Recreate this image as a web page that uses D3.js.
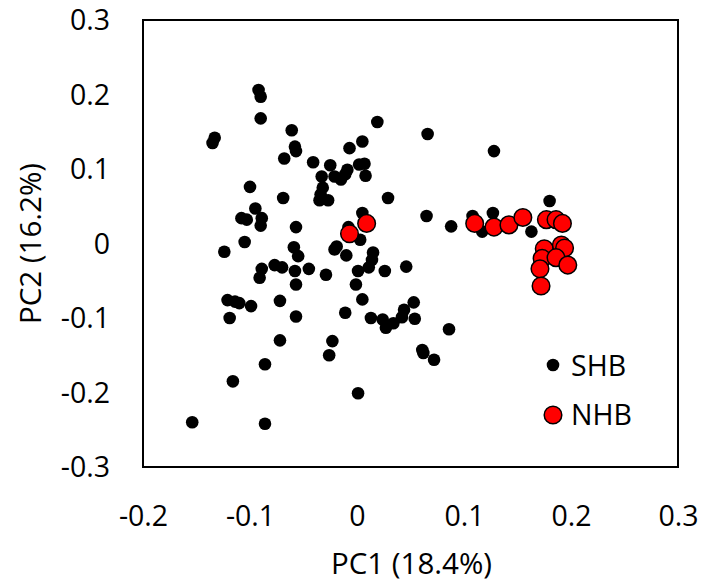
<!DOCTYPE html>
<html>
<head>
<meta charset="utf-8">
<script src="https://cdn.jsdelivr.net/npm/d3@7"></script>
<style>
  html, body { margin: 0; padding: 0; background: #fff; }
  svg text { font-family: "Open Sans", "Noto Sans", sans-serif; fill: #000; }
</style>
</head>
<body>
<svg id="chart" width="708" height="586"></svg>
<script>
// ---- data (PC1, PC2) ----
const shbX = [-0.092,-0.090,-0.090,-0.133,-0.135,-0.061,-0.058,-0.057,-0.068,-0.041,
  -0.007,0.005,0.019,0.066,0.128,-0.025,-0.009,0.002,0.007,0.008,
  -0.033,-0.021,-0.015,-0.011,-0.032,-0.034,-0.035,-0.027,0.029,-0.069,
  -0.100,-0.095,-0.108,-0.103,-0.089,-0.090,-0.057,0.065,0.088,0.108,
  0.117,0.127,0.163,0.180,0.005,-0.008,0.003,-0.105,-0.124,-0.059,
  -0.055,-0.021,-0.019,-0.010,0.015,0.014,0.011,0.001,0.026,0.046,
  -0.089,-0.091,-0.077,-0.070,-0.058,-0.045,-0.029,-0.057,-0.001,-0.121,
  -0.114,-0.110,-0.099,-0.072,0.005,-0.119,-0.057,-0.011,0.013,0.024,
  0.027,0.034,0.042,0.044,0.053,0.054,0.086,-0.072,-0.023,-0.026,
  0.061,0.062,0.072,-0.086,-0.116,0.001,-0.154,-0.086];
const shbY = [0.206,0.197,0.168,0.142,0.135,0.152,0.130,0.124,0.114,0.109,
  0.128,0.137,0.163,0.147,0.124,0.105,0.099,0.106,0.107,0.091,
  0.090,0.090,0.086,0.093,0.075,0.066,0.058,0.058,0.061,0.061,
  0.076,0.047,0.034,0.032,0.034,0.024,0.022,0.037,0.023,0.037,
  0.016,0.041,0.016,0.057,0.041,0.022,0.005,0.002,-0.011,-0.005,
  -0.017,-0.008,-0.004,-0.016,-0.012,-0.022,-0.032,-0.037,-0.037,-0.031,
  -0.034,-0.046,-0.029,-0.032,-0.037,-0.034,-0.042,-0.055,-0.055,-0.076,
  -0.078,-0.080,-0.084,-0.077,-0.075,-0.100,-0.098,-0.093,-0.100,-0.102,
  -0.113,-0.107,-0.099,-0.089,-0.079,-0.101,-0.115,-0.130,-0.131,-0.150,
  -0.143,-0.147,-0.156,-0.162,-0.185,-0.201,-0.240,-0.242];
const nhbX = [-0.007,0.009,0.110,0.128,0.142,0.155,0.177,0.186,0.192,0.175,
  0.173,0.191,0.194,0.186,0.197,0.171,0.172];
const nhbY = [0.013,0.027,0.027,0.022,0.025,0.035,0.032,0.032,0.027,-0.007,
  -0.020,-0.002,-0.006,-0.019,-0.029,-0.034,-0.057];
const xTicks = [-0.2,-0.1,0,0.1,0.2,0.3];
const yTicks = [-0.3,-0.2,-0.1,0,0.1,0.2,0.3];
const xTitle = "PC1 (18.4%)";
const yTitle = "PC2 (16.2%)";
const seriesNames = ["SHB", "NHB"];

// ---- layout ----
const svg = d3.select("#chart");
const L = 143, R = 678, T = 20, B = 467;
const x = d3.scaleLinear().domain([-0.2, 0.3]).range([L, R]);
const y = d3.scaleLinear().domain([-0.3, 0.3]).range([B, T]);
const fmt = d => d === 0 ? "0" : (d < 0 ? "-" : "") + Math.abs(d).toFixed(1);

// frame
svg.append("rect").attr("x", L).attr("y", T).attr("width", R - L).attr("height", B - T)
  .attr("fill", "none").attr("stroke", "#000").attr("stroke-width", 2);

// axes (labels only)
const xAxis = d3.axisBottom(x).tickValues(xTicks).tickFormat(fmt).tickSize(0).tickPadding(0);
const gx = svg.append("g").attr("transform", `translate(0,${B})`).call(xAxis);
gx.select(".domain").remove();
gx.selectAll("text").attr("font-size", 28.5).attr("dy", null).attr("y", 59)
  .style("font-family", "'Open Sans', sans-serif");

const yAxis = d3.axisLeft(y).tickValues(yTicks).tickFormat(fmt).tickSize(0).tickPadding(0);
const gy = svg.append("g").attr("transform", `translate(110,0)`).call(yAxis);
gy.select(".domain").remove();
gy.selectAll("text").attr("font-size", 28.5).attr("x", 0).attr("dy", "0.35em")
  .style("font-family", "'Open Sans', sans-serif");

// titles
svg.append("text").attr("x", (L + R) / 2 + 1).attr("y", 574).attr("text-anchor", "middle")
  .attr("font-size", 29.5).text(xTitle);
svg.append("text").attr("transform", `translate(41,${(T + B) / 2}) rotate(-90)`)
  .attr("text-anchor", "middle").attr("font-size", 29.5).text(yTitle);

// points
const shb = shbX.map((v, i) => [v, shbY[i]]);
const nhb = nhbX.map((v, i) => [v, nhbY[i]]);
svg.append("g").selectAll("circle").data(shb).join("circle")
  .attr("cx", d => x(d[0])).attr("cy", d => y(d[1])).attr("r", 6.3).attr("fill", "#000");
svg.append("g").selectAll("circle").data(nhb).join("circle")
  .attr("cx", d => x(d[0])).attr("cy", d => y(d[1])).attr("r", 8.8)
  .attr("fill", "#ff0000").attr("stroke", "#000").attr("stroke-width", 1.5);

// legend
const lg = svg.append("g");
lg.append("circle").attr("cx", 553).attr("cy", 365).attr("r", 6.3).attr("fill", "#000");
lg.append("circle").attr("cx", 553).attr("cy", 415).attr("r", 8.8)
  .attr("fill", "#ff0000").attr("stroke", "#000").attr("stroke-width", 1.5);
lg.append("text").attr("x", 571).attr("y", 376).attr("font-size", 28.5).text(seriesNames[0]);
lg.append("text").attr("x", 571).attr("y", 425).attr("font-size", 28.5).text(seriesNames[1]);
</script>
</body>
</html>
